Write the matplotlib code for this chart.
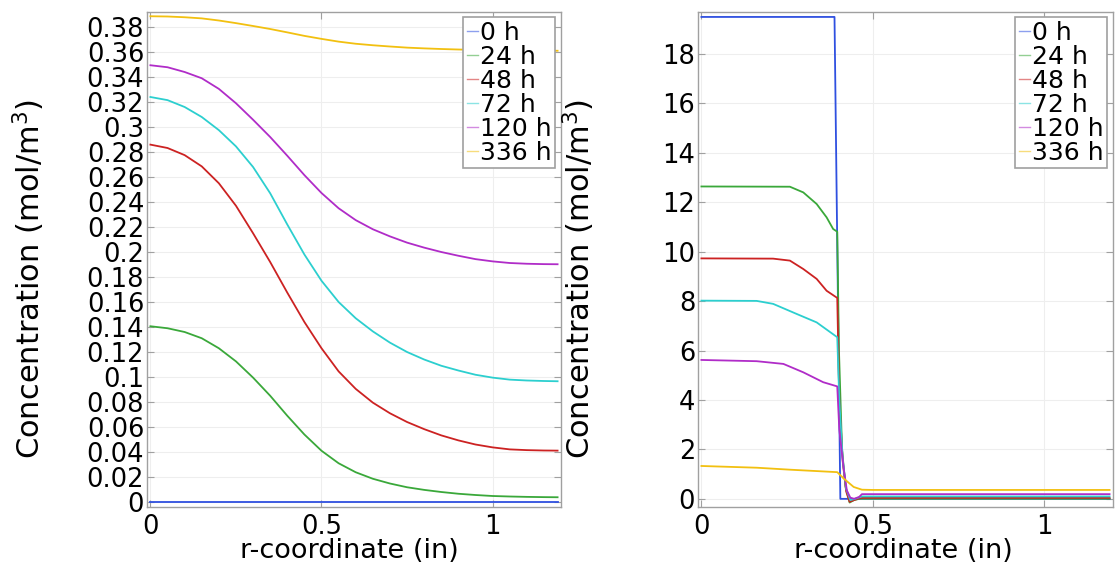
import matplotlib
matplotlib.use("Agg")
import matplotlib.pyplot as plt
from matplotlib.ticker import FuncFormatter

# ---------------- data ----------------
labels = ["0 h", "24 h", "48 h", "72 h", "120 h", "336 h"]
colors = ["#2f50e0", "#3aa83a", "#cc2222", "#2ccfcf", "#b02cc8", "#f2c010"]

# Left panel (common r grid)
r_left = [0, 0.05, 0.1, 0.15, 0.2, 0.25, 0.3, 0.35, 0.4, 0.45, 0.5, 0.55, 0.6,
          0.65, 0.7, 0.75, 0.8, 0.85, 0.9, 0.95, 1.0, 1.05, 1.1, 1.15, 1.19]
left_0h = [0.0] * 25
left_24h = [0.1406, 0.139, 0.136, 0.131, 0.123, 0.1125, 0.0995, 0.085, 0.069, 0.054,
            0.041, 0.031, 0.0238, 0.0186, 0.0148, 0.0118, 0.0097, 0.0080, 0.0066,
            0.0056, 0.0048, 0.0044, 0.0041, 0.0039, 0.0038]
left_48h = [0.2859, 0.2832, 0.2775, 0.2685, 0.2550, 0.2370, 0.2150, 0.1920, 0.1675,
            0.1440, 0.1230, 0.1045, 0.0905, 0.0795, 0.0710, 0.0640, 0.0583, 0.0533,
            0.0493, 0.0460, 0.0437, 0.0421, 0.0415, 0.0412, 0.0411]
left_72h = [0.324, 0.3215, 0.316, 0.308, 0.2975, 0.2845, 0.268, 0.247, 0.222, 0.198,
            0.177, 0.160, 0.147, 0.1365, 0.1275, 0.1200, 0.1140, 0.1090, 0.1052,
            0.1018, 0.0995, 0.0979, 0.0972, 0.0968, 0.0966]
left_120h = [0.3494, 0.3478, 0.3440, 0.3390, 0.3305, 0.3190, 0.3058, 0.2920, 0.2770,
             0.2615, 0.2472, 0.2350, 0.2255, 0.2182, 0.2125, 0.2075, 0.2035, 0.2000,
             0.1970, 0.1943, 0.1925, 0.1912, 0.1906, 0.1903, 0.1902]
left_336h = [0.3886, 0.3884, 0.3878, 0.3869, 0.3852, 0.3831, 0.3808, 0.3784, 0.3757,
             0.3729, 0.3705, 0.3683, 0.3666, 0.3654, 0.3644, 0.3635, 0.3629, 0.3624,
             0.3620, 0.3617, 0.3614, 0.3612, 0.3611, 0.3610, 0.3610]

# Right panel (each series with its own r points)
r_0h = [0, 0.388, 0.405, 1.19]
v_0h = [19.5, 19.5, 0.0, 0.0]
r_24h = [0, 0.258, 0.297, 0.336, 0.365, 0.384, 0.396, 0.401, 0.41, 0.42, 0.432,
         0.445, 0.46, 0.468, 1.19]
v_24h = [12.64, 12.63, 12.40, 11.93, 11.39, 10.92, 10.81, 6.0, 2.0, 0.5, -0.15,
         -0.05, 0.0, 0.005, 0.005]
r_48h = [0, 0.209, 0.258, 0.297, 0.336, 0.365, 0.396, 0.402, 0.412, 0.422, 0.432,
         0.445, 0.46, 0.468, 1.19]
v_48h = [9.73, 9.72, 9.64, 9.30, 8.90, 8.42, 8.13, 4.0, 1.5, 0.3, -0.12,
         -0.05, 0.02, 0.041, 0.041]
r_72h = [0, 0.161, 0.209, 0.278, 0.336, 0.396, 0.402, 0.412, 0.422, 0.434,
         0.448, 0.46, 0.468, 1.19]
v_72h = [8.02, 8.01, 7.89, 7.48, 7.14, 6.54, 4.0, 1.6, 0.4, -0.05,
         0.0, 0.06, 0.097, 0.097]
r_120h = [0, 0.161, 0.239, 0.297, 0.355, 0.396, 0.402, 0.415, 0.424, 0.434,
          0.445, 0.46, 0.468, 1.19]
v_120h = [5.62, 5.57, 5.46, 5.12, 4.72, 4.55, 2.8, 1.2, 0.34, 0.05,
          0.0, 0.08, 0.19, 0.19]
r_336h = [0, 0.161, 0.258, 0.396, 0.415, 0.444, 0.468, 0.5, 1.19]
v_336h = [1.33, 1.26, 1.18, 1.08, 0.82, 0.48, 0.37, 0.36, 0.36]

xticks = [0, 0.5, 1]
xtick_labels = ["0", "0.5", "1"]
left_yticks = [0, 0.02, 0.04, 0.06, 0.08, 0.1, 0.12, 0.14, 0.16, 0.18, 0.2,
               0.22, 0.24, 0.26, 0.28, 0.3, 0.32, 0.34, 0.36, 0.38]
right_yticks = [0, 2, 4, 6, 8, 10, 12, 14, 16, 18]

xlabel = "r-coordinate (in)"
ylabel = "Concentration (mol/m$^3$)"

# ---------------- figure ----------------
plt.rcParams["font.family"] = ["DejaVu Sans"]
plt.rcParams["mathtext.fontset"] = "dejavusans"

W, H = 1117, 563
fig = plt.figure(figsize=(W / 100, H / 100), dpi=100)

def px_axes(l, t, r, b):
    return fig.add_axes([l / W, 1 - b / H, (r - l) / W, (b - t) / H])

axL = px_axes(147, 12, 561, 507)
axR = px_axes(698, 12, 1113, 507)

left_series = [left_0h, left_24h, left_48h, left_72h, left_120h, left_336h]
for vals, c, lab in zip(left_series, colors, labels):
    axL.plot(r_left, vals, color=c, lw=1.3, label=lab)

right_r = [r_0h, r_24h, r_48h, r_72h, r_120h, r_336h]
right_v = [v_0h, v_24h, v_48h, v_72h, v_120h, v_336h]
for rr, vv, c, lab in zip(right_r, right_v, colors, labels):
    axR.plot(rr, vv, color=c, lw=1.3, label=lab)

axL.set_xlim(-0.01, 1.2)
axL.set_ylim(-0.004, 0.392)
axR.set_xlim(-0.01, 1.2)
axR.set_ylim(-0.33, 19.7)

axL.set_yticks(left_yticks)
axL.yaxis.set_major_formatter(FuncFormatter(lambda v, p: f"{round(v, 4):g}"))
axR.set_yticks(right_yticks)
axR.set_yticklabels([str(t) for t in right_yticks])

for ax in (axL, axR):
    ax.set_xticks(xticks)
    ax.set_xticklabels(xtick_labels)
    ax.grid(True, color="#eeeeee", lw=0.8)
    ax.set_axisbelow(True)
    for s in ax.spines.values():
        s.set_color("#a0a0a0")
        s.set_linewidth(1.0)
    ax.tick_params(direction="in", length=5, width=0.8, color="#a0a0a0",
                   top=True, right=True, labelsize=18.5)
    ax.tick_params(axis="y", pad=2)
    ax.tick_params(axis="x", pad=5)
    ax.set_xlabel(xlabel, fontsize=19.5)
    ax.set_ylabel(ylabel, fontsize=22)
    ax.xaxis.label.set_va("center")
    ax.yaxis.label.set_va("center")
    leg = ax.legend(loc="upper right", bbox_to_anchor=(0.9855, 0.99),
                    borderaxespad=0, fontsize=18, frameon=True, fancybox=False,
                    framealpha=1, edgecolor="#a0a0a0", handlelength=0.45,
                    handletextpad=0.05, labelspacing=0.0, borderpad=0.15)
    leg.get_frame().set_linewidth(1.2)
    for ln in leg.get_lines():
        ln.set_linewidth(1.0)
        ln.set_alpha(0.55)

axL.xaxis.set_label_coords(0.488, -0.088)
axL.yaxis.set_label_coords((29 - 147) / 414, 0.46)
axR.xaxis.set_label_coords(0.494, -0.088)
axR.yaxis.set_label_coords((579 - 698) / 415, 0.46)

fig.savefig("out.png", dpi=100)
